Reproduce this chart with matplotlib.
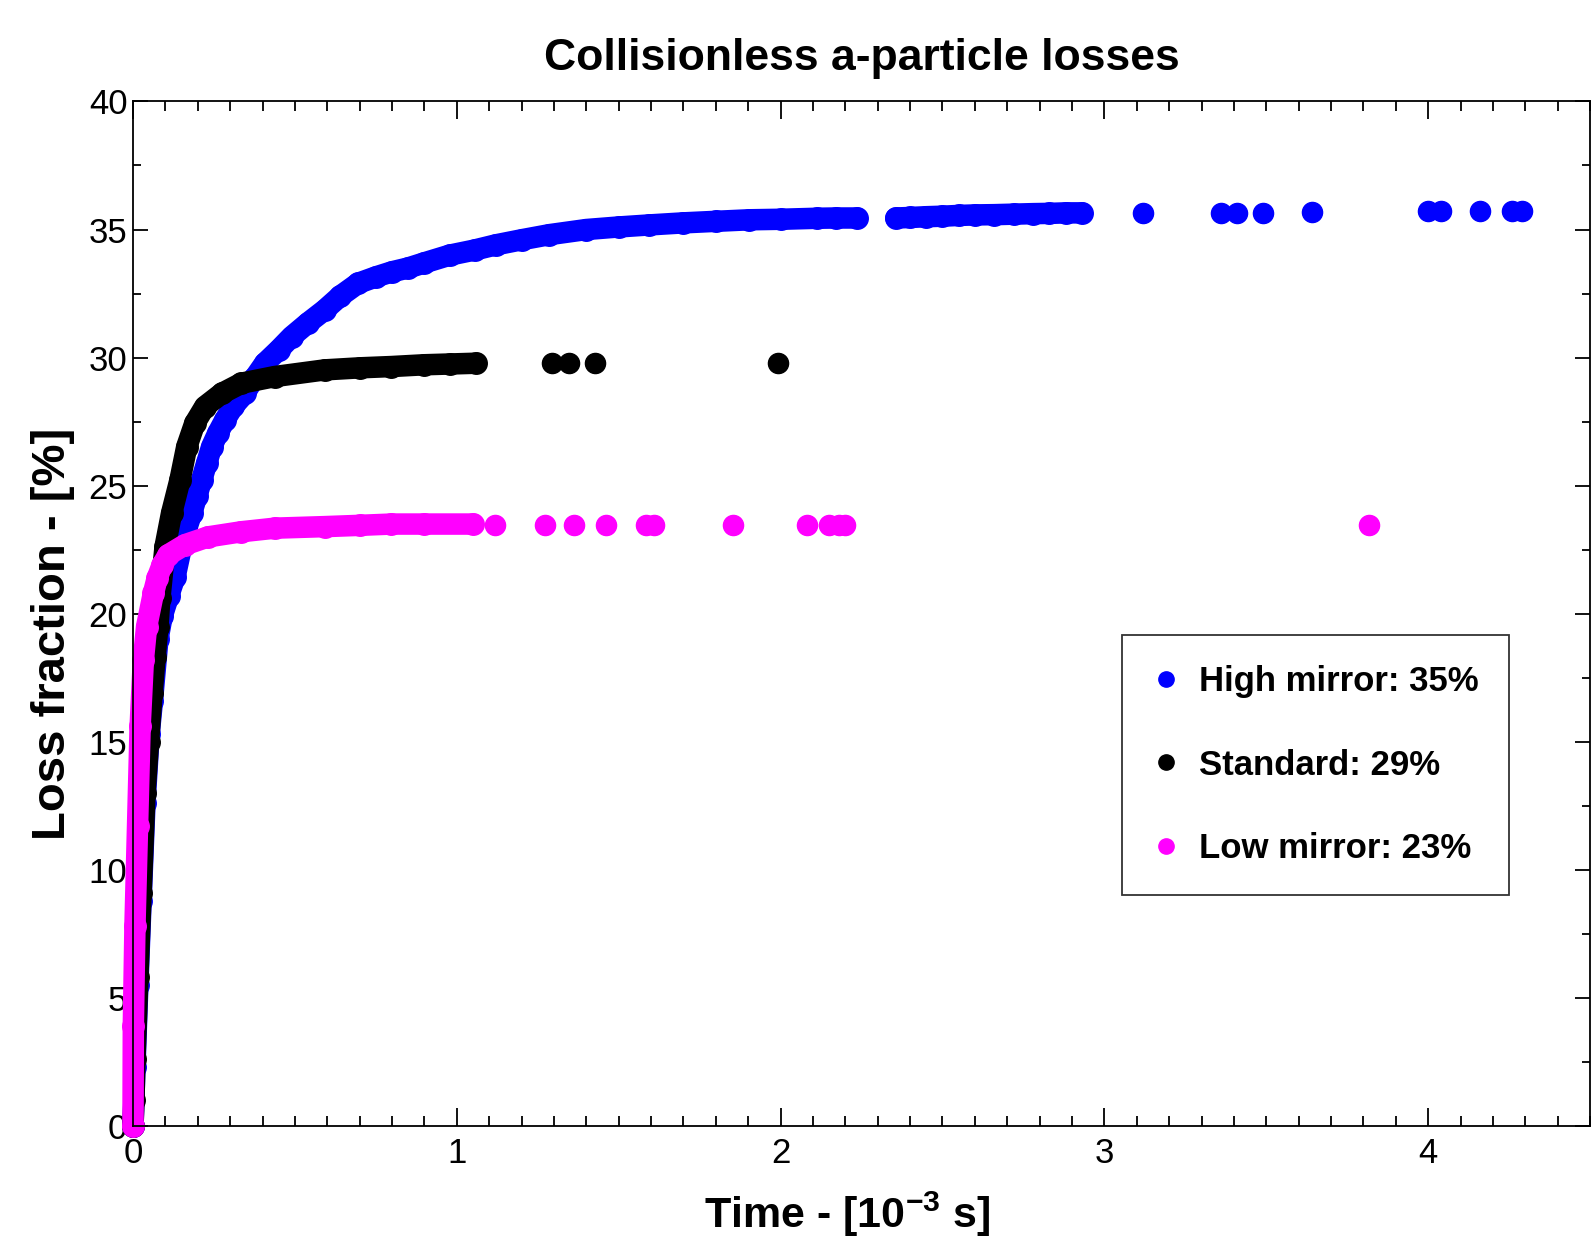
import numpy as np
import matplotlib
matplotlib.use('Agg')
import matplotlib.pyplot as plt
from matplotlib.lines import Line2D
from matplotlib.ticker import MultipleLocator

plt.rcParams['font.family'] = ['Liberation Sans', 'DejaVu Sans']
plt.rcParams['mathtext.fontset'] = 'custom'
plt.rcParams['mathtext.bf'] = 'Liberation Sans:bold'
plt.rcParams['mathtext.rm'] = 'Liberation Sans'

# --- data (time in 1e-3 s, loss fraction in %) ---
# high mirror: continuous part, second cluster, isolated late losses
high_t1 = [0.0, 0.006, 0.015, 0.025, 0.037, 0.05, 0.06, 0.077, 0.09, 0.11, 0.13,
           0.15, 0.165, 0.181, 0.197, 0.212, 0.228, 0.243, 0.262, 0.284, 0.31,
           0.345, 0.375, 0.407, 0.45, 0.49, 0.54, 0.592, 0.64, 0.695, 0.75, 0.8,
           0.85, 0.9, 0.978, 1.055, 1.12, 1.2, 1.286, 1.4, 1.5, 1.595, 1.7, 1.8,
           1.903, 2.0, 2.113, 2.17, 2.236]
high_v1 = [0.0, 2.3, 5.5, 8.8, 12.6, 15.3, 16.6, 19.0, 19.9, 20.7, 21.45,
           22.62, 23.3, 23.92, 24.6, 25.22, 25.9, 26.52, 27.05, 27.57, 28.1,
           28.6, 29.2, 29.78, 30.3, 30.82, 31.35, 31.86, 32.4, 32.9, 33.15, 33.35,
           33.5, 33.7, 34.0, 34.2, 34.4, 34.6, 34.8, 35.0, 35.1, 35.18, 35.26, 35.32,
           35.38, 35.4, 35.44, 35.45, 35.45]
high_t2 = [2.356, 2.40, 2.45, 2.5, 2.55, 2.6, 2.66, 2.72, 2.78, 2.83, 2.88, 2.93]
high_v2 = [35.45, 35.47, 35.5, 35.52, 35.55, 35.57, 35.58, 35.6, 35.62, 35.63, 35.65, 35.65]
high_t3 = [3.12, 3.36, 3.41, 3.49, 3.64, 4.0, 4.04, 4.16, 4.26, 4.29]
high_v3 = [35.66, 35.66, 35.66, 35.66, 35.7, 35.72, 35.72, 35.72, 35.72, 35.72]

# standard
std_t1 = [0.0, 0.003, 0.006, 0.015, 0.025, 0.037, 0.048, 0.059, 0.068, 0.077,
          0.083, 0.099, 0.119, 0.145, 0.166, 0.191, 0.222, 0.274, 0.335, 0.438,
          0.592, 0.7, 0.798, 0.9, 0.98, 1.06]
std_v1 = [0.0, 1.0, 2.6, 5.8, 9.1, 13.0, 15.0, 16.9, 18.3, 19.5,
          20.6, 22.62, 23.92, 25.22, 26.52, 27.44, 28.09, 28.6, 29.0, 29.26,
          29.52, 29.6, 29.65, 29.72, 29.75, 29.78]
std_t2 = [1.295, 1.346, 1.428, 1.993]
std_v2 = [29.78, 29.78, 29.78, 29.78]

# low mirror
low_t1 = [0.0, 0.001, 0.006, 0.014, 0.022, 0.032, 0.042, 0.063, 0.075, 0.09,
          0.109, 0.16, 0.232, 0.335, 0.438, 0.592, 0.7, 0.798, 0.9, 1.05]
low_v1 = [0.0, 3.9, 7.8, 11.7, 15.6, 18.2, 19.5, 20.8, 21.4, 21.9,
          22.3, 22.69, 23.0, 23.2, 23.34, 23.4, 23.45, 23.5, 23.5, 23.5]
low_t2 = [1.117, 1.273, 1.361, 1.462, 1.584, 1.61, 1.854, 2.081, 2.15, 2.179, 2.20, 3.818]
low_v2 = [23.47] * 12

labels = ['High mirror: 35%', 'Standard: 29%', 'Low mirror: 23%']
colors = ['#0000ff', '#000000', '#ff00ff']

BAND = 15.5   # width of the dense, overlapping-marker band (pt)
MS = 14.5     # isolated marker size (pt)

fig = plt.figure(figsize=(15.91, 12.48), dpi=100)
ax = fig.add_axes([0.0836, 0.0978, 0.9158, 0.8209])


def draw(ax, segs, pts, color):
    for t, v in segs:
        ax.plot(t, v, '-o', color=color, lw=BAND, ms=BAND, solid_capstyle='round',
                solid_joinstyle='round', clip_on=False)
    ax.plot(pts[0], pts[1], 'o', color=color, ms=MS, clip_on=False)


draw(ax, [(high_t1, high_v1), (high_t2, high_v2)], (high_t3, high_v3), colors[0])
draw(ax, [(std_t1, std_v1)], (std_t2, std_v2), colors[1])
draw(ax, [(low_t1, low_v1)], (low_t2, low_v2), colors[2])

ax.set_xlim(0, 4.5)
ax.set_ylim(0, 40)
ax.xaxis.set_major_locator(MultipleLocator(1))
ax.xaxis.set_minor_locator(MultipleLocator(0.1))
ax.yaxis.set_major_locator(MultipleLocator(5))
ax.yaxis.set_minor_locator(MultipleLocator(2.5))
ax.tick_params(which='both', direction='in', top=True, right=True, width=1.3,
               labelsize=25)
ax.tick_params(axis='x', which='major', length=13, pad=8)
ax.tick_params(axis='x', which='minor', length=7.5)
ax.tick_params(axis='y', which='major', length=11, pad=4)
ax.tick_params(axis='y', which='minor', length=6)
for sp in ax.spines.values():
    sp.set_linewidth(1.3)

ax.set_title('Collisionless a-particle losses', fontsize=32, fontweight='bold', pad=23)
ax.set_xlabel(r'Time - [10$^{\mathbf{-3}}$ s]', fontsize=31, fontweight='bold')
ax.set_ylabel('Loss fraction - [%]', fontsize=34, fontweight='bold')
ax.xaxis.set_label_coords(0.49, -0.062)
ax.yaxis.set_label_coords(-0.04, 0.48)

handles = [Line2D([], [], ls='none', marker='o', ms=11, color=c) for c in colors]
leg = fig.legend(handles, labels, loc='upper left', bbox_to_anchor=(0.7052, 0.4912),
                 borderaxespad=0, frameon=True, fancybox=False, edgecolor='black',
                 borderpad=0.87, labelspacing=1.45, handlelength=0.8,
                 handletextpad=0.55, prop={'weight': 'bold', 'size': 25})
leg.get_frame().set_linewidth(1.3)

fig.savefig('out.png', dpi=100)
